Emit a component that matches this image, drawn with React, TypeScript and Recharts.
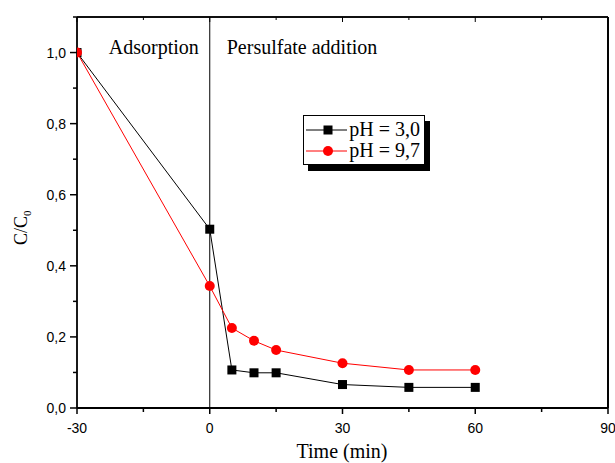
import { LineChart, Line, XAxis, YAxis, ReferenceLine, Label } from 'recharts'

const TIMES = [-30, 0, 5, 10, 15, 30, 45, 60]
const PH30 = [1.0, 0.503, 0.107, 0.099, 0.099, 0.066, 0.058, 0.058]
const PH97 = [1.0, 0.343, 0.225, 0.189, 0.163, 0.126, 0.107, 0.107]

const X_TICKS = [-30, -15, 0, 15, 30, 45, 60, 75, 90]
const X_MAJOR = [-30, 0, 30, 60, 90]
const Y_TICKS = [0, 0.1, 0.2, 0.3, 0.4, 0.5, 0.6, 0.7, 0.8, 0.9, 1.0, 1.1]
const Y_MAJOR = [0, 0.2, 0.4, 0.6, 0.8, 1.0]

const SERIES = [
    { key: 'ph30', name: 'pH = 3,0', color: '#000000', shape: 'square' },
    { key: 'ph97', name: 'pH = 9,7', color: '#ff0000', shape: 'circle' },
]

const data = TIMES.map((t, i) => ({ t, ph30: PH30[i], ph97: PH97[i] }))

const SANS = '"Liberation Sans", Arial, sans-serif'
const SERIF = '"Liberation Serif", "Times New Roman", serif'

function isMajor(list: number[], v: number) {
    return list.some((m) => Math.abs(m - v) < 1e-6)
}

function BottomTick({ x, y, payload }: any) {
    const major = isMajor(X_MAJOR, payload.value)
    return (
        <g>
            <line x1={x} x2={x} y1={y} y2={y + (major ? 6 : 4)} stroke="#000" strokeWidth={1.5} />
            {major && (
                <text x={x} y={y + 25} textAnchor="middle" fontSize={14} fontFamily={SANS} fill="#000">
                    {payload.value}
                </text>
            )}
        </g>
    )
}

function TopTick({ x, y, payload }: any) {
    const major = isMajor(X_MAJOR, payload.value)
    return <line x1={x} x2={x} y1={y} y2={y + (major ? 5 : 3)} stroke="#000" strokeWidth={1} />
}

function LeftTick({ x, y, payload }: any) {
    const major = isMajor(Y_MAJOR, payload.value)
    return (
        <g>
            <line x1={x} x2={x - (major ? 7 : 4)} y1={y} y2={y} stroke="#000" strokeWidth={1.5} />
            {major && (
                <text x={x - 11} y={y + 5} textAnchor="end" fontSize={14} fontFamily={SANS} fill="#000">
                    {payload.value.toFixed(1).replace('.', ',')}
                </text>
            )}
        </g>
    )
}

function RightTick({ x, y, payload }: any) {
    const major = isMajor(Y_MAJOR, payload.value)
    return <line x1={x} x2={x - (major ? 5 : 3)} y1={y} y2={y} stroke="#000" strokeWidth={1} />
}

function Marker({ cx, cy, shape, color }: any) {
    if (cx == null || cy == null) return null
    if (shape === 'square') return <rect x={cx - 4.5} y={cy - 4.5} width={9} height={9} fill={color} />
    return <circle cx={cx} cy={cy} r={5} fill={color} />
}

function PhaseLabels({ viewBox }: any) {
    const x = viewBox.x
    const y = viewBox.y
    return (
        <g fontFamily={SERIF} fontSize={20} fill="#000">
            <text x={x - 11} y={y + 37} textAnchor="end">Adsorption</text>
            <text x={x + 17} y={y + 37}>Persulfate addition</text>
        </g>
    )
}

function YTitle() {
    return (
        <text transform="translate(27,245) rotate(-90)" fontFamily={SERIF} fontSize={18} fill="#000">
            C/C<tspan fontSize={11} dy={4}>0</tspan>
        </text>
    )
}

function LegendBox() {
    return (
        <div style={{
            position: 'absolute', left: 303, top: 115,
            border: '1px solid #000', background: '#fff', boxShadow: '5px 6px 0 #000',
            padding: '3px 4px 3px 2px', fontFamily: SERIF, fontSize: 20, lineHeight: '21px', width: 114,
        }}>
            {SERIES.map((s) => (
                <div key={s.key} style={{ display: 'flex', alignItems: 'center' }}>
                    <svg width={44} height={20}>
                        <line x1={0} x2={42} y1={10} y2={10} stroke={s.color} strokeWidth={1} />
                        <Marker cx={22} cy={10} shape={s.shape} color={s.color} />
                    </svg>
                    <span style={{ marginLeft: 2, whiteSpace: 'nowrap' }}>{s.name}</span>
                </div>
            ))}
        </div>
    )
}

export default function App() {
    return (
        <div style={{ position: 'absolute', left: 0, top: 0, width: 615, height: 463, background: '#fff' }}>
            <LineChart width={615} height={463} data={data} margin={{ top: 16, right: 6, left: 0, bottom: 0 }}>
                <XAxis
                    dataKey="t" type="number" domain={[-30, 90]} ticks={X_TICKS} interval={0}
                    height={55} tickSize={0} tickMargin={0} tick={<BottomTick />}
                    axisLine={{ stroke: '#000', strokeWidth: 1.8 }} allowDataOverflow
                />
                <XAxis
                    xAxisId="top" orientation="top" dataKey="t" type="number" domain={[-30, 90]} ticks={X_TICKS}
                    interval={0} height={1} tickSize={0} tickMargin={0} tick={<TopTick />}
                    axisLine={{ stroke: '#000', strokeWidth: 1.5 }}
                />
                <YAxis
                    type="number" domain={[0, 1.1]} ticks={Y_TICKS} interval={0} width={77}
                    tickSize={0} tickMargin={0} tick={<LeftTick />}
                    axisLine={{ stroke: '#000', strokeWidth: 1.8 }}
                >
                    <Label content={<YTitle />} />
                </YAxis>
                <YAxis
                    yAxisId="right" orientation="right" type="number" domain={[0, 1.1]} ticks={Y_TICKS}
                    interval={0} width={1} tickSize={0} tickMargin={0} tick={<RightTick />}
                    axisLine={{ stroke: '#000', strokeWidth: 1.8 }}
                />
                <ReferenceLine y={1.1} stroke="#000" strokeWidth={1.5} />
                <ReferenceLine x={90} stroke="#000" strokeWidth={1.8} />
                <ReferenceLine x={0} stroke="#000" strokeWidth={1} label={<PhaseLabels />} />
                {SERIES.map((s) => (
                    <Line
                        key={s.key} dataKey={s.key} name={s.name} type="linear" stroke={s.color}
                        strokeWidth={1} isAnimationActive={false}
                        dot={(p: any) => <Marker key={p.index} cx={p.cx} cy={p.cy} shape={s.shape} color={s.color} />}
                        activeDot={false}
                    />
                ))}
                <text x={342} y={458} textAnchor="middle" fontFamily={SERIF} fontSize={20} fill="#000">Time (min)</text>
            </LineChart>
            <LegendBox />
        </div>
    )
}
